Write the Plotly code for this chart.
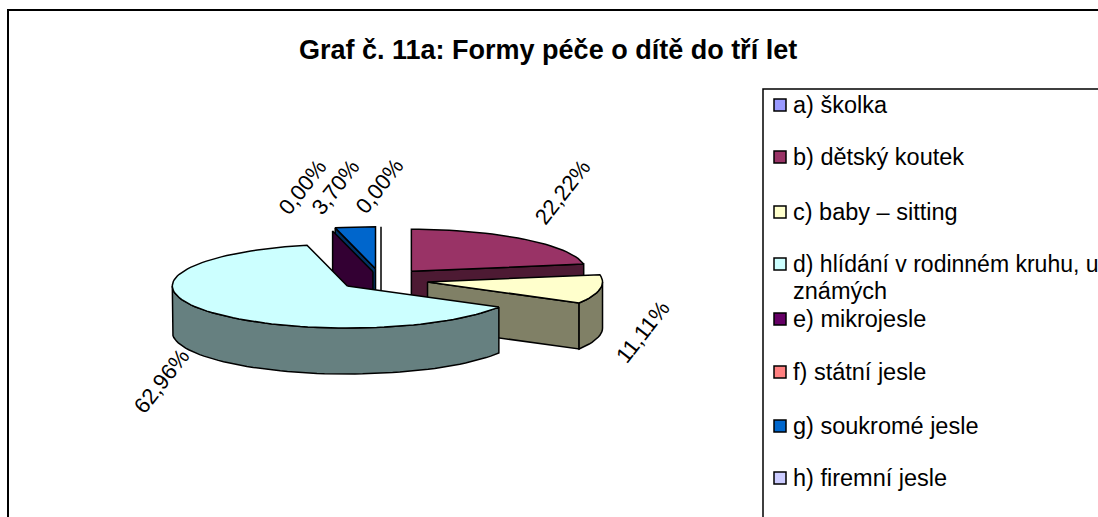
import math
import plotly.graph_objects as go

categories = ["a) školka", "b) dětský koutek", "c) baby – sitting",
              "d) hlídání v rodinném kruhu, u", "e) mikrojesle",
              "f) státní jesle", "g) soukromé jesle", "h) firemní jesle"]
values = [0.00, 22.22, 11.11, 62.96, 0.00, 0.00, 3.70, 0.00]
top_colors = ["#9999FF", "#993366", "#FFFFCC", "#CCFFFF", "#660066", "#FF8080", "#0066CC", "#CCCCFF"]
side_colors = ["#4D4D80", "#4D1A33", "#808066", "#668080", "#330033", "#804040", "#003366", "#666680"]
pulls = [0.27, 0.27, 0.27, 0.24, 0.20, 0.27, 0.27, 0.27]

CX, CY, RX, RY, DEPTH = 381, 280, 175, 42, 46
legend_y = [105, 157, 212, 264, 319, 372, 426, 478]
legend_size = [23.5, 23.5, 23.5, 23, 23.5, 23.5, 23.5, 23.5]
label_pos = {1: (562, 192), 2: (642, 332), 3: (161, 381), 4: (302, 187), 6: (335, 187), 7: (379, 186)}
LABEL_ANGLE = -52
FONT = "Liberation Sans"

total = sum(values)
starts, ends, acc = [], [], 0.0
for v in values:
    starts.append(acc / total * 360)
    acc += v
    ends.append(acc / total * 360)


def apex(i):
    mid = math.radians((starts[i] + ends[i]) / 2)
    return CX + pulls[i] * RX * math.sin(mid), CY - pulls[i] * RY * math.cos(mid)


def rim(i, deg):
    ax, ay = apex(i)
    t = math.radians(deg)
    return ax + RX * math.sin(t), ay - RY * math.cos(t)


def arc(i, a, b, n=72):
    steps = max(1, int(abs(b - a) / 360 * n * 2))
    return [rim(i, a + (b - a) * k / steps) for k in range(steps + 1)]


fig = go.Figure()


def poly(points, color, name):
    xs = [p[0] for p in points] + [points[0][0]]
    ys = [p[1] for p in points] + [points[0][1]]
    fig.add_trace(go.Scatter(x=xs, y=ys, mode="lines", fill="toself", fillcolor=color, name=name,
                             line=dict(color="black", width=1.5), showlegend=False, hoverinfo="name"))


def top_face(i):
    poly([apex(i)] + arc(i, starts[i], ends[i]), top_colors[i], categories[i])


def radial_wall(i, deg):
    a, r = apex(i), rim(i, deg)
    poly([a, r, (r[0], r[1] + DEPTH), (a[0], a[1] + DEPTH)], side_colors[i], categories[i])


def outer_wall(i):
    a, b = max(starts[i], 90), min(ends[i], 270)
    if b <= a:
        return
    pts = arc(i, a, b)
    poly(pts + [(x, y + DEPTH) for x, y in reversed(pts)], side_colors[i], categories[i])


# back-to-front painting of the exploded 3D pie
radial_wall(6, starts[6])
radial_wall(4, starts[4])
top_face(6)
radial_wall(7, starts[7])
radial_wall(1, ends[1])
top_face(1)
radial_wall(2, ends[2])
outer_wall(2)
top_face(2)
outer_wall(3)
top_face(3)

# legend keys
fig.add_trace(go.Scatter(x=[780] * len(categories), y=legend_y, mode="markers", showlegend=False,
                         hoverinfo="skip",
                         marker=dict(symbol="square", size=12, color=top_colors,
                                     line=dict(color="black", width=1.5))))

ann = []
for i, (x, y) in label_pos.items():
    ann.append(dict(x=x, y=y, text=f"{values[i]:.2f}".replace(".", ",") + "%", textangle=LABEL_ANGLE,
                    showarrow=False, xref="x", yref="y",
                    font=dict(family=FONT, size=22, color="black")))
for i, name in enumerate(categories):
    ann.append(dict(x=791, y=legend_y[i], text=name, showarrow=False, xref="x", yref="y", xanchor="left",
                    font=dict(family=FONT, size=legend_size[i], color="black")))
ann.append(dict(x=791, y=291, text="známých", showarrow=False, xref="x", yref="y", xanchor="left",
                font=dict(family=FONT, size=23.5, color="black")))
ann.append(dict(x=548, y=50, text="<b>Graf č. 11a: Formy péče o dítě do tří let</b>", showarrow=False,
                xref="x", yref="y", font=dict(family=FONT, size=27, color="black")))

shapes = [
    dict(type="rect", x0=8, y0=10, x1=1140, y1=560, xref="x", yref="y", line=dict(color="black", width=2)),
    dict(type="rect", x0=763, y0=89, x1=1140, y1=560, xref="x", yref="y", line=dict(color="black", width=1.5)),
]

fig.update_layout(
    width=1098, height=517, autosize=False, margin=dict(l=0, r=0, t=0, b=0),
    paper_bgcolor="white", plot_bgcolor="white", showlegend=False,
    xaxis=dict(range=[0, 1098], visible=False, fixedrange=True),
    yaxis=dict(range=[517, 0], visible=False, fixedrange=True),
    annotations=ann, shapes=shapes,
)
fig.write_html("out.html", post_script="document.body.style.margin='0';document.body.style.overflow='hidden';",
               config={"displayModeBar": False})
